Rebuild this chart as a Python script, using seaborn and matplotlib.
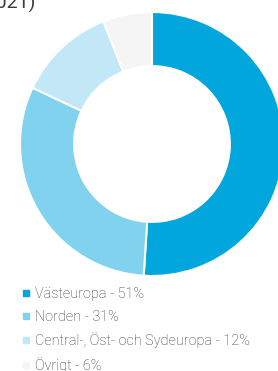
import numpy as np
import matplotlib
matplotlib.use("Agg")
import matplotlib.pyplot as plt
import seaborn as sns
from matplotlib.lines import Line2D

regions = ["Västeuropa", "Norden", "Central-, Öst- och Sydeuropa", "Övrigt"]
shares = [51, 31, 12, 6]
colors = ["#00A6DC", "#80D2EF", "#C2E8F7", "#F5F5F5"]


def main():
    sns.set_style("white")
    plt.rcParams["font.family"] = ["Roboto", "DejaVu Sans"]

    fig = plt.figure(figsize=(2.78, 3.71), dpi=100)
    ax = fig.add_axes([0, 0, 1, 1])
    ax.set_axis_off()

    ax.pie(shares, colors=colors, startangle=90, counterclock=False, radius=1.0,
           wedgeprops=dict(width=0.41, edgecolor="white", linewidth=1.5))

    # pixel mapping: centre (152, 144), radius 132 px
    r = 132.0
    ax.set_xlim(-152 / r, (278 - 152) / r)
    ax.set_ylim(-(371 - 144) / r, 144 / r)
    ax.set_aspect("equal", adjustable="box")

    # cut-off heading at top
    fig.text(36 / 278, 1 - 9 / 371, "(2021)", ha="right", va="baseline",
             fontsize=14, color="#3a3a3a")

    handles = [Line2D([0], [0], marker="s", linestyle="", markersize=5,
                      markerfacecolor=c, markeredgecolor=c) for c in colors]
    labels = [f"{n} - {v}%" for n, v in zip(regions, shares)]
    fig.legend(handles, labels, loc="upper left", bbox_to_anchor=(22 / 278, 1 - 287 / 371),
               frameon=False, prop=dict(size=10.4, weight="light"), handlelength=0.5,
               handletextpad=0.42, labelspacing=0.6, borderaxespad=0, borderpad=0,
               labelcolor="#333333")

    fig.savefig("out.png", dpi=100)


if __name__ == "__main__":
    main()
